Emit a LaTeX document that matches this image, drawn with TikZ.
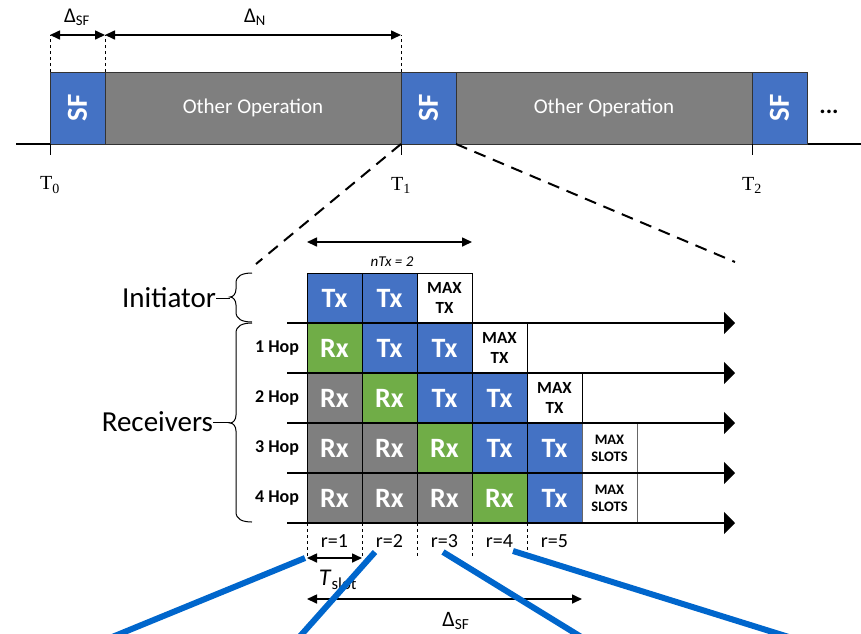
\documentclass[tikz,border=0pt]{standalone}
\usepackage{fontspec}
\setmainfont{Carlito}
\newfontfamily\timesfont{Liberation Serif}
\usetikzlibrary{arrows.meta}

\definecolor{sfblue}{HTML}{4472C4}
\definecolor{opgray}{HTML}{7F7F7F}
\definecolor{rxgreen}{HTML}{70AD47}
\definecolor{linkblue}{HTML}{0066CC}

\newcommand{\pxfont}[2]{\fontsize{#1}{#2}\selectfont}
% left curly brace between y=#1 and y=#2, tip at y=#3
\newcommand{\curlybrace}[3]{%
  \draw[line width=1pt] (252,#1) .. controls (242,#1) and (236,#1+3) .. (236,#1+10)
    -- (236,#3-8) .. controls (236,#3-3) and (233,#3) .. (230,#3)
    .. controls (233,#3) and (236,#3+3) .. (236,#3+8)
    -- (236,#2-10) .. controls (236,#2-3) and (242,#2) .. (252,#2);}

\begin{document}
\begin{tikzpicture}[x=1pt, y=-1pt,
    every node/.style={inner sep=0pt, outer sep=0pt},
    sfbox/.style={draw=black!80, line width=0.8pt, fill=sfblue, minimum width=55pt, minimum height=72pt, anchor=south west},
    opbox/.style={draw=black!80, line width=0.8pt, fill=opgray, minimum width=296pt, minimum height=72pt, anchor=south west,
      text=white, font=\pxfont{21}{24}},
    sftext/.style={rotate=90, text=white, font=\bfseries\pxfont{29}{29}},
    cell/.style={draw, line width=0.8pt, minimum width=55pt, minimum height=50pt, anchor=north west},
    txcell/.style={cell, fill=sfblue, text=white, font=\bfseries\pxfont{28}{28}},
    rxcell/.style={cell, fill=rxgreen, text=white, font=\bfseries\pxfont{28}{28}},
    idlecell/.style={cell, fill=opgray, text=white, font=\bfseries\pxfont{28}{28}},
    maxcell/.style={cell, fill=white, align=center, font=\bfseries\pxfont{17}{20}},
    slotcell/.style={cell, draw=black!60, fill=white, align=center, font=\bfseries\pxfont{14.5}{17}},
    hoplabel/.style={font=\bfseries\pxfont{18}{18}},
    sidelabel/.style={font=\pxfont{29}{29}, anchor=east},
    tlabel/.style={font=\timesfont\pxfont{20}{20}},
    dim/.style={line width=1.6pt, {Triangle[length=10pt,width=9pt]}-{Triangle[length=10pt,width=9pt]}},
    hopline/.style={line width=1.1pt, -{Triangle[length=11pt,width=22pt]}},
    guide/.style={line width=0.6pt, dashed},
    zoomline/.style={line width=2pt, dash pattern=on 12pt off 8pt},
    link/.style={linkblue, line width=6pt}]

\useasboundingbox (0,0) rectangle (861,633);
\clip (0,0) rectangle (861,633);

% time axis with the flood slots
\draw[line width=2pt] (16,144) -- (861,144);
\node[sfbox] (sf1) at (50,144) {};
\node[opbox] (op1) at (105,144) {Other Operation};
\node[sfbox] (sf2) at (401,144) {};
\node[opbox] (op2) at (456,144) {Other Operation};
\node[sfbox] (sf3) at (752,144) {};
\foreach \s in {sf1,sf2,sf3}
  \node[sftext] at (\s) {SF};
\node[font=\bfseries\pxfont{24}{24}] (more) at (829,112) {...};

% ticks and instants
\foreach \s/\i in {sf1/0,sf2/1,sf3/2} {
  \draw[line width=1pt] (\s.south west) -- ++(0,11);
  \node[tlabel] (t\i) at ([yshift=-41pt]\s.south west) {T\textsubscript{\i}};
}

% period lengths
\draw[guide] (sf1.north west) -- ++(0,-37);
\draw[guide] (op1.north west) -- ++(0,-37);
\draw[guide] (sf2.north west) -- ++(0,-37);
\draw[dim] ([yshift=37pt]sf1.north west) -- ([yshift=37pt]sf1.north east);
\draw[dim] ([yshift=37pt]op1.north west) -- ([yshift=37pt]op1.north east);
\node[font=\pxfont{21}{21}] (dsf) at (77,17) {Δ\textsubscript{SF}};
\node[font=\pxfont{21}{21}] (dn) at (255,17) {Δ\textsubscript{N}};

% zoom into the second flood
\coordinate (zl) at (256,264);
\coordinate (zr) at (735,262);
\draw[zoomline] (sf2.south west) -- (zl);
\draw[zoomline] (sf2.south east) -- (zr);

% slots: initiator
\foreach \s/\t [count=\c from 0] in {txcell/Tx, txcell/Tx}
  \node[\s] (c0\c) at (307+55*\c,273) {\t};
\node[maxcell] (c02) at (417,273) {MAX\\TX};
% 1 hop
\foreach \s/\t [count=\c from 0] in {rxcell/Rx, txcell/Tx, txcell/Tx}
  \node[\s] (c1\c) at (307+55*\c,323) {\t};
\node[maxcell] (c13) at (472,323) {MAX\\TX};
% 2 hop
\foreach \s/\t [count=\c from 0] in {idlecell/Rx, rxcell/Rx, txcell/Tx, txcell/Tx}
  \node[\s] (c2\c) at (307+55*\c,373) {\t};
\node[maxcell] (c24) at (527,373) {MAX\\TX};
% 3 hop
\foreach \s/\t [count=\c from 0] in {idlecell/Rx, idlecell/Rx, rxcell/Rx, txcell/Tx, txcell/Tx}
  \node[\s] (c3\c) at (307+55*\c,423) {\t};
\node[slotcell] (c35) at (582,423) {MAX\\SLOTS};
% 4 hop
\foreach \s/\t [count=\c from 0] in {idlecell/Rx, idlecell/Rx, idlecell/Rx, rxcell/Rx, txcell/Tx}
  \node[\s] (c4\c) at (307+55*\c,473) {\t};
\node[slotcell] (c45) at (582,473) {MAX\\SLOTS};

% time lines of the receivers
\foreach \h in {1,...,5} {
  \coordinate (ls\h) at (287,273+50*\h);
  \coordinate (le\h) at (735,273+50*\h);
  \draw[hopline] (ls\h) -- (le\h);
}
\foreach \h in {1,...,4}
  \node[hoplabel] (hop\h) at (277,298+50*\h) {\h{} Hop};

% groups
\curlybrace{273}{322}{297}
\curlybrace{323}{522}{423}
\node[sidelabel] (init) at (216,298) {Initiator};
\node[sidelabel] (recv) at (213,422) {Receivers};
\coordinate (inittip) at (230,298);
\coordinate (recvtip) at (230,422);
\draw[line width=1pt] (init.east) -- (inittip);
\draw[line width=1pt] (recv.east) -- (recvtip);

% number of transmissions
\draw[dim] ([yshift=31pt]c00.north west) -- ([yshift=31pt]c02.north east);
\node[font=\itshape\pxfont{15}{15}] (ntx) at (392,262) {nTx = 2};

% rounds
\foreach \c in {1,...,5}
  \node[font=\pxfont{20}{20}] (r\c) at (279.5+55*\c,541) {r=\c};
\foreach \c in {0,...,4}
  \draw[guide] (c4\c.south west) -- ++(0,34);
\draw[dim] ([yshift=-35pt]c40.south west) -- ([yshift=-35pt]c40.south east);
\node[font=\pxfont{24}{24}] (tslot) at (338,580) {\textit{T}\textsubscript{slot}};
\draw[dim] ([yshift=-76pt]c40.south west) -- ([yshift=-76pt]c45.south west);
\node[font=\pxfont{22}{22}] (dsf2) at (456,621) {Δ\textsubscript{SF}};

% links to the next view
\draw[link] (305,558) -- (100,642);
\draw[link] (375,552) -- (294,643);
\draw[link] (443,552) -- (591,643);
\draw[link] (513,551) -- (808,643);
\end{tikzpicture}
\end{document}
